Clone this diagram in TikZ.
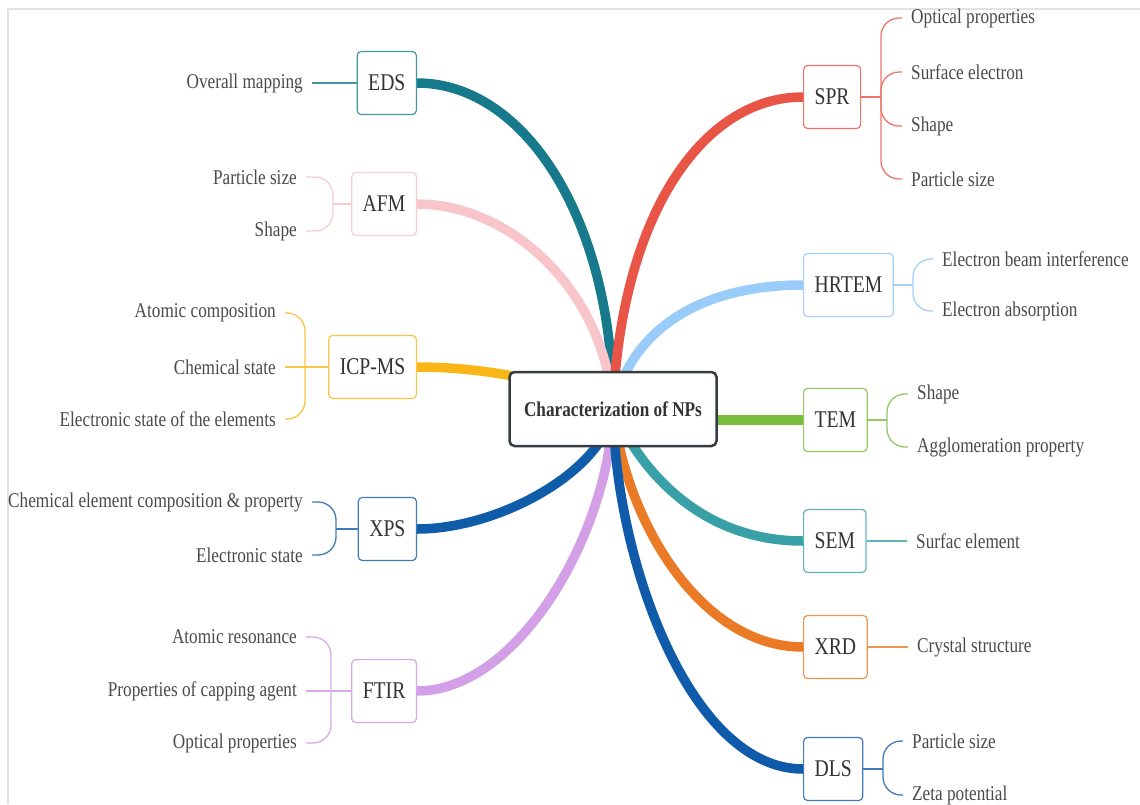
\documentclass[tikz,border=0pt]{standalone}
\usepackage{fontspec}
\setmainfont{Liberation Serif}[FakeStretch=0.82]
\usepackage{xcolor}
\usetikzlibrary{backgrounds}
\definecolor{cEDS}{HTML}{177A8C}
\definecolor{cAFM}{HTML}{F8C6CA}
\definecolor{cICP}{HTML}{F8B619}
\definecolor{cXPS}{HTML}{0F5DA8}
\definecolor{cFTIR}{HTML}{D39FE6}
\definecolor{cSPR}{HTML}{E85446}
\definecolor{cHRTEM}{HTML}{99CCFA}
\definecolor{cTEM}{HTML}{77BC3F}
\definecolor{cSEM}{HTML}{39A0A8}
\definecolor{cXRD}{HTML}{EB7A26}
\definecolor{cDLS}{HTML}{105AAA}
\definecolor{rootgray}{HTML}{353B41}
\definecolor{txtdark}{HTML}{333333}
\definecolor{txtleaf}{HTML}{4A4A4A}
\definecolor{framegray}{HTML}{E2E2E2}
\tikzstyle{root} = [rectangle, rounded corners=5pt, draw=rootgray, line width=2.5pt, fill=white, minimum width=207pt, minimum height=74pt, font=\fontsize{21}{24}\selectfont\bfseries, text=txtdark]
\tikzstyle{method} = [rectangle, rounded corners=4pt, line width=1.2pt, fill=white, minimum height=63pt, inner xsep=11pt, font=\fontsize{24}{28}\selectfont, text=txtdark]
\tikzstyle{leaf} = [inner xsep=9pt, inner ysep=2pt, font=\fontsize{21}{24}\selectfont, text=txtleaf]
\tikzstyle{branch} = [line width=9.5pt]
\tikzstyle{twig} = [line width=1.3pt, rounded corners=18pt]

\begin{document}
\begin{tikzpicture}[x=1pt, y=-1pt]
    \useasboundingbox (0,0) rectangle (1140,804);

    \node[root] (np) at (613,409) {Characterization of NPs};

    % left side
    \node[method, draw=cEDS!80, anchor=east] (eds) at (417,83) {EDS};
    \node[method, draw=cAFM!90, anchor=east] (afm) at (417,204) {AFM};
    \node[method, draw=cICP!80, anchor=east] (icp) at (417,367) {ICP-MS};
    \node[method, draw=cXPS!80, anchor=east] (xps) at (417,529) {XPS};
    \node[method, draw=cFTIR!90, anchor=east] (ftir) at (417,691) {FTIR};

    % right side
    \node[method, draw=cSPR!80, anchor=west] (spr) at (803,97) {SPR};
    \node[method, draw=cHRTEM!90, anchor=west] (hrtem) at (803,285) {HRTEM};
    \node[method, draw=cTEM!80, anchor=west] (tem) at (803,420) {TEM};
    \node[method, draw=cSEM!80, anchor=west] (sem) at (803,541) {SEM};
    \node[method, draw=cXRD!80, anchor=west] (xrd) at (803,647) {XRD};
    \node[method, draw=cDLS!80, anchor=west] (dls) at (803,769) {DLS};

    % leaves
    \node[leaf, anchor=east] (eds1) at (312,83) {Overall mapping};
    \node[leaf, anchor=east] (afm1) at (306,177) {Particle size};
    \node[leaf, anchor=east] (afm2) at (306,231) {Shape};
    \node[leaf, anchor=east] (icp1) at (285,313) {Atomic composition};
    \node[leaf, anchor=east] (icp2) at (285,367) {Chemical state};
    \node[leaf, anchor=east] (icp3) at (285,419) {Electronic state of the elements};
    \node[leaf, anchor=east] (xps1) at (312,502) {Chemical element composition \& property};
    \node[leaf, anchor=east] (xps2) at (312,555) {Electronic state};
    \node[leaf, anchor=east] (ftir1) at (306,637) {Atomic resonance};
    \node[leaf, anchor=east] (ftir2) at (306,691) {Properties of capping agent};
    \node[leaf, anchor=east] (ftir3) at (306,743) {Optical properties};

    \node[leaf, anchor=west] (spr1) at (902,18) {Optical properties};
    \node[leaf, anchor=west] (spr2) at (902,72) {Surface electron};
    \node[leaf, anchor=west] (spr3) at (902,126) {Shape};
    \node[leaf, anchor=west] (spr4) at (902,179) {Particle size};
    \node[leaf, anchor=west] (hrtem1) at (933,259) {Electron beam interference};
    \node[leaf, anchor=west] (hrtem2) at (933,311) {Electron absorption};
    \node[leaf, anchor=west] (tem1) at (908,394) {Shape};
    \node[leaf, anchor=west] (tem2) at (908,447) {Agglomeration property};
    \node[leaf, anchor=west] (sem1) at (907,541) {Surfac element};
    \node[leaf, anchor=west] (xrd1) at (908,647) {Crystal structure};
    \node[leaf, anchor=west] (dls1) at (903,741) {Particle size};
    \node[leaf, anchor=west] (dls2) at (903,795) {Zeta potential};

    % brace junctions
    \coordinate (afmj) at (333,204);
    \coordinate (icpj) at (305,367);
    \coordinate (xpsj) at (336,529);
    \coordinate (ftirj) at (331,691);
    \coordinate (sprj) at (881,97);
    \coordinate (hrtemj) at (913,285);
    \coordinate (temj) at (887,420);
    \coordinate (dlsj) at (883,769);

    \begin{scope}[on background layer]
        \draw[framegray, line width=1.5pt] (1140,9) -- (8,9) -- (8,804);

        % main branches
        \draw[branch, cEDS] (eds.east) .. controls +(108,0) and +(0,-189) .. (np.center);
        \draw[branch, cAFM] (afm.east) .. controls +(93,0) and +(-8,-119) .. (np.center);
        \draw[branch, cICP] (icp.east) .. controls +(63,0) and +(-53,-29) .. (np.center);
        \draw[branch, cXPS] (xps.east) .. controls +(83,0) and +(-8,61) .. (np.center);
        \draw[branch, cFTIR] (ftir.east) .. controls +(103,0) and +(-3,121) .. (np.center);
        \draw[branch, cSPR] (spr.west) .. controls +(-103,0) and +(7,-189) .. (np.center);
        \draw[branch, cHRTEM] (hrtem.west) .. controls +(-103,0) and +(17,-79) .. (np.center);
        \draw[branch, cTEM] (tem.west) -- (tem.west -| np.center);
        \draw[branch, cSEM] (sem.west) .. controls +(-103,0) and +(27,61) .. (np.center);
        \draw[branch, cXRD] (xrd.west) .. controls +(-103,0) and +(12,111) .. (np.center);
        \draw[branch, cDLS] (dls.west) .. controls +(-113,0) and +(2,151) .. (np.center);

        % twigs
        \draw[twig, cEDS!80] (eds.west) -- (eds1.east);
        \draw[twig, cAFM!90] (afm.west) -- (afmj);
        \draw[twig, cAFM!90] (afmj) |- (afm1.east);
        \draw[twig, cAFM!90] (afmj) |- (afm2.east);
        \draw[twig, cICP!80] (icp.west) -- (icp2.east);
        \draw[twig, cICP!80] (icpj) |- (icp1.east);
        \draw[twig, cICP!80] (icpj) |- (icp3.east);
        \draw[twig, cXPS!80] (xps.west) -- (xpsj);
        \draw[twig, cXPS!80] (xpsj) |- (xps1.east);
        \draw[twig, cXPS!80] (xpsj) |- (xps2.east);
        \draw[twig, cFTIR!90] (ftir.west) -- (ftir2.east);
        \draw[twig, cFTIR!90] (ftirj) |- (ftir1.east);
        \draw[twig, cFTIR!90] (ftirj) |- (ftir3.east);

        \draw[twig, cSPR!80] (spr.east) -- (sprj);
        \draw[twig, cSPR!80] (sprj) |- (spr1.west);
        \draw[twig, cSPR!80] (sprj) |- (spr2.west);
        \draw[twig, cSPR!80] (sprj) |- (spr3.west);
        \draw[twig, cSPR!80] (sprj) |- (spr4.west);
        \draw[twig, cHRTEM!90] (hrtem.east) -- (hrtemj);
        \draw[twig, cHRTEM!90] (hrtemj) |- (hrtem1.west);
        \draw[twig, cHRTEM!90] (hrtemj) |- (hrtem2.west);
        \draw[twig, cTEM!80] (tem.east) -- (temj);
        \draw[twig, cTEM!80] (temj) |- (tem1.west);
        \draw[twig, cTEM!80] (temj) |- (tem2.west);
        \draw[twig, cSEM!80] (sem.east) -- (sem1.west);
        \draw[twig, cXRD!80] (xrd.east) -- (xrd1.west);
        \draw[twig, cDLS!80] (dls.east) -- (dlsj);
        \draw[twig, cDLS!80] (dlsj) |- (dls1.west);
        \draw[twig, cDLS!80] (dlsj) |- (dls2.west);
    \end{scope}
\end{tikzpicture}
\end{document}
